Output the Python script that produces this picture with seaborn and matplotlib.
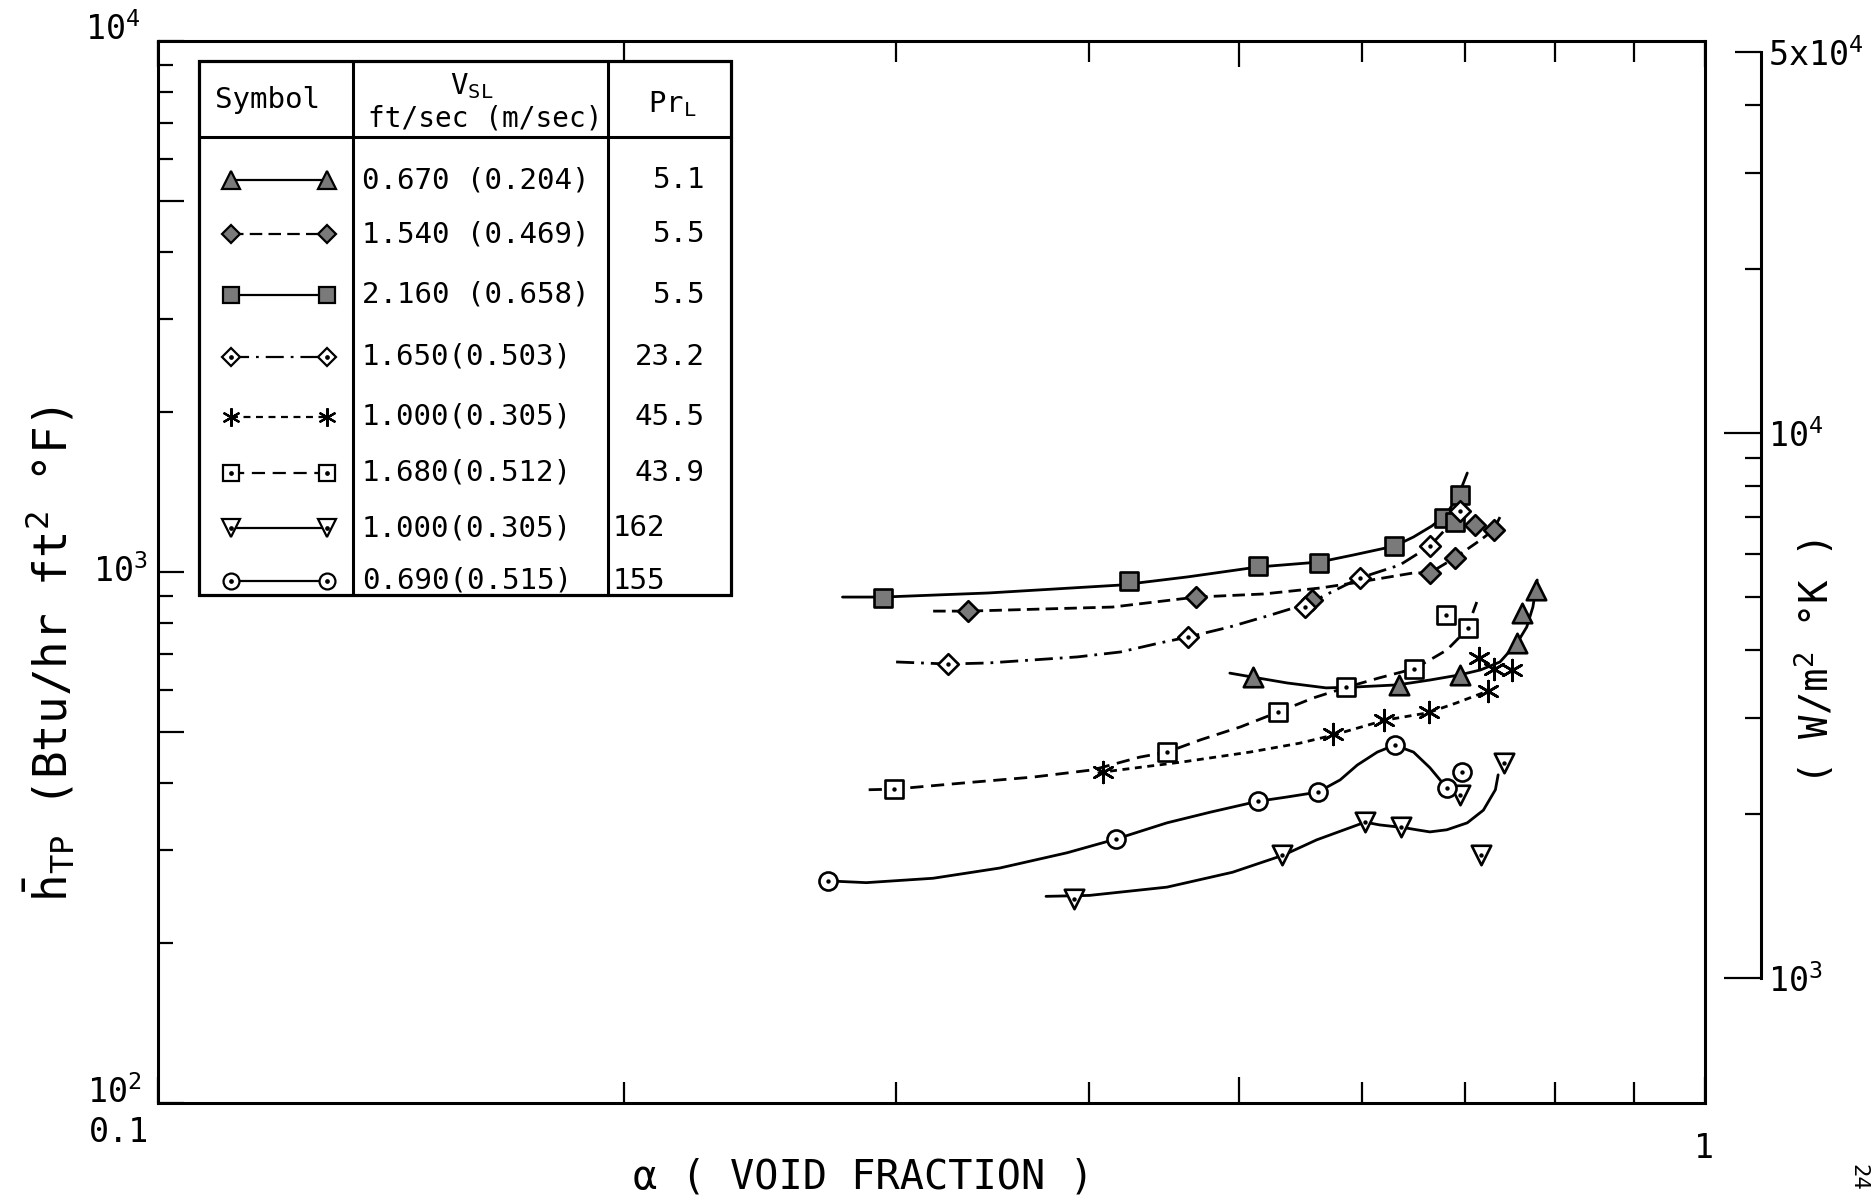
import matplotlib
matplotlib.use("Agg")
import matplotlib.pyplot as plt
import seaborn as sns
from matplotlib.ticker import FixedLocator, NullFormatter, FixedFormatter
from matplotlib.patches import Rectangle

sns.set_theme(style="white")
plt.rcParams["font.family"] = ["DejaVu Sans Mono", "DejaVu Sans"]
plt.rcParams["mathtext.fontset"] = "custom"
plt.rcParams["mathtext.rm"] = "DejaVu Sans Mono"
plt.rcParams["mathtext.it"] = "DejaVu Sans Mono:italic"
plt.rcParams["mathtext.bf"] = "DejaVu Sans Mono:bold"
plt.rcParams["mathtext.sf"] = "DejaVu Sans Mono"
plt.rcParams["lines.scale_dashes"] = False
for key in ("text.color", "axes.labelcolor", "xtick.color", "ytick.color", "axes.edgecolor"):
    plt.rcParams[key] = "black"

# ---------------------------------------------------------------- data
# Each run: measured points (alpha, h_TP) and the faired curve drawn through them.

# V_SL 0.670 ft/s, Pr_L 5.1 -- filled triangles, solid
tri_alpha = [0.510, 0.634, 0.694, 0.756, 0.761, 0.778]
tri_h = [633, 613, 640, 734, 837, 925]
tri_fit_alpha = [0.493, 0.510, 0.537, 0.569, 0.592, 0.633, 0.664, 0.694, 0.716, 0.737, 0.756, 0.767, 0.774, 0.779]
tri_fit_h = [645, 634, 618, 605, 607, 613, 626, 640, 654, 677, 735, 788, 859, 966]

# V_SL 1.540 ft/s, Pr_L 5.5 -- filled diamonds, dashed
fdia_alpha = [0.334, 0.469, 0.557, 0.664, 0.689, 0.710, 0.730]
fdia_h = [846, 898, 886, 994, 1061, 1226, 1200]
fdia_fit_alpha = [0.317, 0.334, 0.414, 0.469, 0.518, 0.564, 0.592, 0.648, 0.664, 0.689, 0.716, 0.730, 0.737]
fdia_fit_h = [844, 844, 859, 897, 909, 933, 953, 996, 996, 1063, 1149, 1200, 1269]

# V_SL 2.160 ft/s, Pr_L 5.5 -- filled squares, solid
fsq_alpha = [0.294, 0.424, 0.514, 0.563, 0.629, 0.678, 0.689, 0.694]
fsq_h = [892, 963, 1026, 1038, 1119, 1262, 1242, 1396]
fsq_fit_alpha = [0.277, 0.294, 0.344, 0.419, 0.463, 0.514, 0.563, 0.592, 0.630, 0.648, 0.666, 0.680, 0.693, 0.702]
fsq_fit_h = [897, 897, 913, 945, 979, 1022, 1044, 1076, 1119, 1164, 1221, 1281, 1396, 1536]

# V_SL 1.650 ft/s, Pr_L 23.2 -- open diamonds, dash-dot
odia_alpha = [0.324, 0.463, 0.551, 0.598, 0.664, 0.694]
odia_h = [671, 753, 859, 973, 1119, 1304]
odia_fit_alpha = [0.300, 0.324, 0.344, 0.393, 0.419, 0.444, 0.463, 0.493, 0.524, 0.555, 0.598, 0.635, 0.664, 0.679, 0.694]
odia_fit_h = [677, 671, 674, 692, 707, 735, 754, 788, 830, 874, 974, 1031, 1119, 1200, 1303]

# V_SL 1.000 ft/s, Pr_L 45.5 -- asterisks, short dashes
ast_alpha = [0.408, 0.575, 0.620, 0.663, 0.724, 0.714, 0.730, 0.750]
ast_h = [421, 495, 526, 544, 597, 690, 657, 654]
ast_fit_alpha = [0.405, 0.408, 0.460, 0.508, 0.547, 0.575, 0.621, 0.662, 0.691, 0.724]
ast_fit_h = [418, 420, 439, 458, 476, 493, 526, 543, 567, 597]

# V_SL 1.680 ft/s, Pr_L 43.9 -- open squares, dashed
osq_alpha = [0.299, 0.449, 0.530, 0.586, 0.648, 0.680, 0.703]
osq_h = [390, 459, 544, 607, 657, 830, 785]
osq_fit_alpha = [0.288, 0.299, 0.333, 0.368, 0.402, 0.431, 0.449, 0.472, 0.501, 0.530, 0.558,
                 0.587, 0.616, 0.648, 0.664, 0.681, 0.694, 0.705, 0.712]
osq_fit_h = [389, 390, 401, 411, 424, 448, 458, 483, 511, 545, 579, 607, 632, 657, 683, 713, 754, 812, 878]

# V_SL 1.000 ft/s, Pr_L 162 -- open inverted triangles, solid
itri_alpha = [0.391, 0.533, 0.603, 0.636, 0.694, 0.741, 0.716]
itri_h = [242, 293, 338, 331, 380, 437, 293]
itri_fit_alpha = [0.375, 0.400, 0.449, 0.495, 0.534, 0.561, 0.603, 0.616, 0.639, 0.651, 0.664, 0.681, 0.702, 0.719, 0.732, 0.735]
itri_fit_h = [245, 246, 255, 272, 293, 313, 338, 334, 330, 327, 324, 327, 337, 356, 389, 415]

# V_SL 0.690 ft/s, Pr_L 155 -- open circles, solid
circ_alpha = [0.271, 0.416, 0.514, 0.562, 0.630, 0.681, 0.696]
circ_h = [262, 314, 370, 385, 472, 392, 421]
circ_fit_alpha = [0.271, 0.287, 0.317, 0.350, 0.387, 0.416, 0.449, 0.479, 0.514, 0.537, 0.562, 0.581,
                  0.596, 0.614, 0.630, 0.648, 0.664, 0.676, 0.681]
circ_fit_h = [262, 260, 265, 277, 296, 314, 337, 353, 370, 377, 385, 406, 433, 458, 472, 458, 428, 402, 392]

# Table of runs
vsl_labels = ["0.670 (0.204)", "1.540 (0.469)", "2.160 (0.658)", "1.650(0.503)",
              "1.000(0.305)", "1.680(0.512)", "1.000(0.305)", "0.690(0.515)"]
pr_labels = ["5.1", "5.5", "5.5", "23.2", "45.5", "43.9", "162", "155"]

# Axis ticks
x_major = [0.1, 0.5, 1.0]
x_minor = [0.2, 0.3, 0.4, 0.6, 0.7, 0.8, 0.9]
y_major = [100, 500, 1000, 5000, 10000]
y_minor = [200, 300, 400, 600, 700, 800, 900, 2000, 3000, 4000, 6000, 7000, 8000, 9000]
si_major = [1e3, 1e4, 5e4]
si_minor = [2e3, 3e3, 4e3, 5e3, 6e3, 7e3, 8e3, 9e3, 2e4, 3e4, 4e4]
si_labels = ["$10^{3}$", "$10^{4}$", "5x$10^{4}$"]

# ---------------------------------------------------------------- styles
GREY = "#7a7a7a"
DASH = (0, (9, 4.5))
DASHDOT = (0, (13, 5, 2, 5))
SHORTDASH = (0, (5, 4))
MEDDASH = (0, (9.5, 5.5))
STAR = (6, 2, 0)

series = [
    dict(a=tri_alpha, h=tri_h, fa=tri_fit_alpha, fh=tri_fit_h, marker="^", size=14, face=GREY, ls="-", dot=False),
    dict(a=fdia_alpha, h=fdia_h, fa=fdia_fit_alpha, fh=fdia_fit_h, marker="D", size=10.5, face=GREY, ls=DASH, dot=False),
    dict(a=fsq_alpha, h=fsq_h, fa=fsq_fit_alpha, fh=fsq_fit_h, marker="s", size=12.5, face=GREY, ls="-", dot=False),
    dict(a=odia_alpha, h=odia_h, fa=odia_fit_alpha, fh=odia_fit_h, marker="D", size=10.5, face="white", ls=DASHDOT, dot=True),
    dict(a=ast_alpha, h=ast_h, fa=ast_fit_alpha, fh=ast_fit_h, marker=STAR, size=15, face="black", ls=SHORTDASH, dot=False),
    dict(a=osq_alpha, h=osq_h, fa=osq_fit_alpha, fh=osq_fit_h, marker="s", size=12.5, face="white", ls=MEDDASH, dot=True),
    dict(a=itri_alpha, h=itri_h, fa=itri_fit_alpha, fh=itri_fit_h, marker="v", size=14, face="white", ls="-", dot=True),
    dict(a=circ_alpha, h=circ_h, fa=circ_fit_alpha, fh=circ_fit_h, marker="o", size=13, face="white", ls="-", dot=True),
]

# ---------------------------------------------------------------- figure
W, H = 1874, 1201
fig = plt.figure(figsize=(W / 100, H / 100), dpi=100)
fig.patch.set_facecolor("white")

L, R, T, B = 158, 1705, 41, 1103
ax = fig.add_axes([L / W, 1 - B / H, (R - L) / W, (B - T) / H])
ax.set_xscale("log")
ax.set_yscale("log")
ax.set_xlim(0.1, 1.0)
ax.set_ylim(100, 10000)
ax.set_facecolor("white")

for s in series:
    sns.lineplot(x=s["fa"], y=s["fh"], ax=ax, estimator=None, sort=False,
                 color="black", linewidth=2.0, linestyle=s["ls"], zorder=2)
    sns.scatterplot(x=s["a"], y=s["h"], ax=ax, marker=s["marker"], s=s["size"] ** 2,
                    color=s["face"], edgecolor="black", linewidth=1.9, zorder=3)
    if s["dot"]:
        sns.scatterplot(x=s["a"], y=s["h"], ax=ax, marker="o", s=10,
                        color="black", edgecolor="black", linewidth=0, zorder=4)

for sp in ax.spines.values():
    sp.set_linewidth(2.2)
    sp.set_color("black")

ax.xaxis.set_major_locator(FixedLocator(x_major))
ax.xaxis.set_minor_locator(FixedLocator(x_minor))
ax.yaxis.set_major_locator(FixedLocator(y_major))
ax.yaxis.set_minor_locator(FixedLocator(y_minor))
for axis in (ax.xaxis, ax.yaxis):
    axis.set_major_formatter(NullFormatter())
    axis.set_minor_formatter(NullFormatter())
ax.tick_params(which="both", direction="in", top=True, right=True, bottom=True, left=True,
               width=1.6, color="black")
ax.xaxis.set_tick_params(which="major", length=18.5)
ax.xaxis.set_tick_params(which="minor", length=15)
ax.yaxis.set_tick_params(which="major", length=19)
ax.yaxis.set_tick_params(which="minor", length=10.5)
ax.grid(False)

# SI scale on a separate spine to the right
ax2 = ax.twinx()
ax2.set_yscale("log")
ax2.set_ylim(589.8, 52390)
for side in ("left", "top", "bottom"):
    ax2.spines[side].set_visible(False)
ax2.spines["right"].set_position(("outward", 40.3))
ax2.spines["right"].set_bounds(1e3, 5e4)
ax2.spines["right"].set_linewidth(2.2)
ax2.spines["right"].set_color("black")
ax2.yaxis.set_major_locator(FixedLocator(si_major))
ax2.yaxis.set_minor_locator(FixedLocator(si_minor))
ax2.yaxis.set_major_formatter(FixedFormatter(si_labels))
ax2.yaxis.set_minor_formatter(NullFormatter())
ax2.tick_params(axis="y", which="both", direction="in", left=False, right=True,
                labelleft=False, labelright=True, width=1.6, color="black")
ax2.tick_params(axis="y", which="major", length=27, labelsize=24, pad=5)
ax2.tick_params(axis="y", which="minor", length=11.5)
ax2.grid(False)
ticks2 = ax2.yaxis.get_major_ticks()
ticks2[2].tick2line.set_markersize(18.7)


def fpos(X, Y):
    return X / W, 1 - Y / H


# Axis labels and decade labels
fig.text(*fpos(140, 30), "$10^{4}$", fontsize=24, ha="right", va="center")
fig.text(*fpos(148, 572), "$10^{3}$", fontsize=24, ha="right", va="center")
fig.text(*fpos(142, 1093), "$10^{2}$", fontsize=24, ha="right", va="center")
fig.text(*fpos(119, 1133), "0.1", fontsize=24, ha="center", va="center")
fig.text(*fpos(1704, 1148), "1", fontsize=24, ha="center", va="center")
fig.text(*fpos(863, 1178), "\u03b1 ( VOID FRACTION )", fontsize=29, ha="center", va="center")
fig.text(*fpos(50, 654), r"$\bar{\mathrm{h}}_{\mathrm{TP}}$ (Btu/hr ft$^{2}$ °F)", fontsize=33,
         rotation=90, ha="center", va="center")
fig.text(*fpos(1815, 662), "( W/m$^{2}$ °K )", fontsize=28, rotation=90, ha="center", va="center")
fig.text(*fpos(1858, 1177), "24", fontsize=16, rotation=-90, ha="center", va="center")

# ---------------------------------------------------------------- table of runs
lax = fig.add_axes([0, 0, 1, 1], zorder=5)
lax.set_xlim(0, W)
lax.set_ylim(H, 0)
lax.axis("off")
lax.patch.set_alpha(0)

tl, tr, tt, tb = 199, 731, 61, 595
c1, c2, hline = 353, 608, 137
lax.add_patch(Rectangle((tl, tt), tr - tl, tb - tt, facecolor="white", edgecolor="black", linewidth=2.3))
lax.plot([c1, c1], [tt, tb], color="black", lw=2.2)
lax.plot([c2, c2], [tt, tb], color="black", lw=2.2)
lax.plot([tl, tr], [hline, hline], color="black", lw=2.2)

lax.text(268, 100, "Symbol", fontsize=21, ha="center", va="center")
lax.text(472, 86, r"V$_{\mathrm{SL}}$", fontsize=21, ha="center", va="center")
lax.text(485, 118, "ft/sec (m/sec)", fontsize=20, ha="center", va="center")
lax.text(672, 104, r"Pr$_{\mathrm{L}}$", fontsize=21, ha="center", va="center")

row_y = [180, 234, 295, 357, 417, 473, 528, 581]
for s, yv, vt, pt in zip(series, row_y, vsl_labels, pr_labels):
    ms = s["size"] * 0.88
    lax.plot([231, 327], [yv, yv], color="black", lw=1.6, linestyle=s["ls"], zorder=1)
    lax.plot([231, 327], [yv, yv], linestyle="none", marker=s["marker"], markersize=ms,
             markerfacecolor=s["face"], markeredgecolor="black", markeredgewidth=1.6, zorder=2)
    if s["dot"]:
        lax.plot([231, 327], [yv, yv], linestyle="none", marker="o", markersize=2.4,
                 color="black", zorder=3)
    lax.text(362, yv, vt, fontsize=21, ha="left", va="center")
    if len(pt) == 3 and "." not in pt:
        lax.text(613, yv, pt, fontsize=21, ha="left", va="center")
    else:
        lax.text(705, yv, pt, fontsize=21, ha="right", va="center")

fig.savefig("out.png", dpi=100, facecolor="white")
